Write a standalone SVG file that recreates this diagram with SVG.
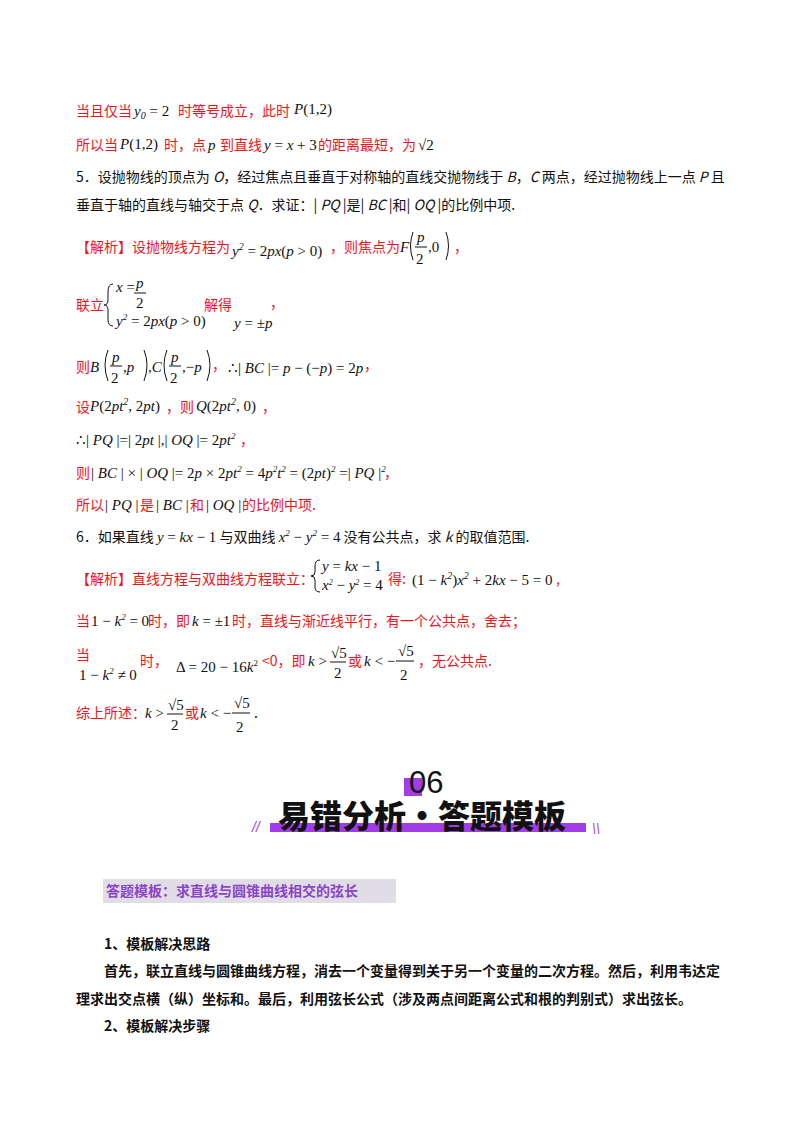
<svg xmlns="http://www.w3.org/2000/svg" width="800" height="1132" viewBox="0 0 800 1132">
<style>
.c{font-family:"Noto Sans CJK SC","Liberation Serif",serif;font-size:14px}
.r{fill:#f0141e}
.k{fill:#111}
.m{font-family:"Liberation Serif",serif;font-size:15px;font-style:italic;fill:#111}
.n{font-family:"Liberation Serif",serif;font-size:15px;fill:#111}
.b{font-weight:bold}
.br{fill:none;stroke:#111;stroke-width:1}
</style>
<rect width="800" height="1132" fill="#fff"/>
<g id="text">
<text x="76" y="116" class="c r">当且仅当</text><text x="134" y="116" class="m">y<tspan font-size="10" dy="3">0</tspan><tspan dy="-3" font-style="normal"> = 2</tspan></text><text x="178" y="116" class="c r">时等号成立，此时</text><text x="294" y="114" class="m" font-size="17">P<tspan font-style="normal">(1,2)</tspan></text>
<text x="76" y="150" class="c r">所以当</text><text x="120" y="149" class="m" font-size="17">P<tspan font-style="normal">(1,2)</tspan></text><text x="164" y="150" class="c r">时，点</text><text x="208" y="150" class="m">p</text><text x="220" y="150" class="c r">到直线</text><text x="264" y="150" class="m" font-size="13">y <tspan font-style="normal">= </tspan>x <tspan font-style="normal">+ 3</tspan></text><text x="318" y="150" class="c r">的距离最短，为</text><text x="418" y="150" class="n" font-size="16">√2</text>
<text x="76" y="182" class="c k">5．设抛物线的顶点为 <tspan font-style="italic">O</tspan>，经过焦点且垂直于对称轴的直线交抛物线于 <tspan font-style="italic">B</tspan>，<tspan font-style="italic">C</tspan> 两点，经过抛物线上一点 <tspan font-style="italic">P</tspan> 且</text>
<text x="76" y="210" class="c k">垂直于轴的直线与轴交于点 <tspan font-style="italic">Q</tspan>．求证：| <tspan font-style="italic">PQ</tspan> |是| <tspan font-style="italic">BC</tspan> |和| <tspan font-style="italic">OQ</tspan> |的比例中项.</text>
<text x="76" y="252" class="c r">【解析】设抛物线方程为</text><text x="232" y="256" class="m">y<tspan font-size="10" dy="-6">2</tspan><tspan dy="6" font-style="normal"> = 2</tspan>px<tspan font-style="normal">(</tspan>p<tspan font-style="normal"> &gt; 0)</tspan></text><text x="330" y="252" class="c r">，则焦点为</text><text x="400" y="252" class="m" font-size="17">F</text><text x="417" y="242" class="m" font-size="14">p</text><line x1="415" y1="247" x2="427" y2="247" stroke="#111"/><text x="416" y="264" class="n" font-size="14">2</text><text x="428" y="252" class="n">,0</text><path class="br" d="M413 232 Q408 246 413 260 M446 232 Q451 246 446 260"/><text x="454" y="252" class="c r">，</text>
<path class="br" d="M113 284 Q108 284 108 292 L108 300 Q108 305 104 305 Q108 305 108 310 L108 320 Q108 326 113 326"/>
<text x="116" y="292" class="m" font-size="14">x <tspan font-style="normal">=</tspan></text><text x="136" y="288" class="m" font-size="14">p</text><line x1="134" y1="293" x2="146" y2="293" stroke="#111"/><text x="136" y="308" class="n" font-size="14">2</text>
<text x="116" y="326" class="m" font-size="14">y<tspan font-size="9" dy="-6">2</tspan><tspan dy="6" font-style="normal"> = 2</tspan>px<tspan font-style="normal">(</tspan>p<tspan font-style="normal"> &gt; 0)</tspan></text>
<text x="76" y="310" class="c r">联立</text><text x="204" y="310" class="c r">解得</text><text x="234" y="328" class="m" font-size="12">y <tspan font-style="normal">= ±</tspan>p</text><text x="270" y="308" class="c r">，</text>
<text x="76" y="372" class="c r">则</text><text x="90" y="372" class="m" font-size="17">B</text><text x="112" y="362" class="m" font-size="14">p</text><line x1="110" y1="366" x2="122" y2="366" stroke="#111"/><text x="111" y="383" class="n" font-size="14">2</text><text x="123" y="372" class="m">,p</text><path class="br" d="M108 350 Q102 365 108 381 M144 350 Q150 365 144 381"/><text x="148" y="372" class="m" font-size="17">,C</text><text x="171" y="362" class="m" font-size="14">p</text><line x1="169" y1="366" x2="181" y2="366" stroke="#111"/><text x="170" y="383" class="n" font-size="14">2</text><text x="182" y="372" class="m">,<tspan font-style="normal">−</tspan>p</text><path class="br" d="M167 350 Q161 365 167 381 M207 350 Q213 365 207 381"/><text x="212" y="370" class="c r">，</text><text x="228" y="373" class="m" font-size="13"><tspan font-style="normal">∴| </tspan>BC<tspan font-style="normal"> |= </tspan>p<tspan font-style="normal"> − (−</tspan>p<tspan font-style="normal">) = 2</tspan>p</text><text x="364" y="370" class="c r">，</text>
<text x="76" y="412" class="c r">设</text><text x="90" y="411" class="m" font-size="16">P<tspan font-style="normal">(2</tspan>pt<tspan font-size="10" dy="-6">2</tspan><tspan dy="6" font-style="normal">, 2</tspan>pt<tspan font-style="normal">)</tspan></text><text x="166" y="412" class="c r">，则</text><text x="196" y="411" class="m" font-size="16">Q<tspan font-style="normal">(2</tspan>pt<tspan font-size="10" dy="-6">2</tspan><tspan dy="6" font-style="normal">, 0)</tspan></text><text x="262" y="412" class="c r">，</text>
<text x="76" y="445" class="m" font-size="14"><tspan font-style="normal">∴| </tspan>PQ<tspan font-style="normal"> |=| 2</tspan>pt<tspan font-style="normal"> |,| </tspan>OQ<tspan font-style="normal"> |= 2</tspan>pt<tspan font-size="9" dy="-6">2</tspan></text><text x="240" y="445" class="c r">，</text>
<text x="76" y="478" class="c r">则</text><text x="91" y="478" class="m" font-size="14"><tspan font-style="normal">| </tspan>BC<tspan font-style="normal"> | × | </tspan>OQ<tspan font-style="normal"> |= 2</tspan>p<tspan font-style="normal"> × 2</tspan>pt<tspan font-size="9" dy="-6">2</tspan><tspan dy="6" font-style="normal"> = 4</tspan>p<tspan font-size="9" dy="-6">2</tspan><tspan dy="6">t</tspan><tspan font-size="9" dy="-6">2</tspan><tspan dy="6" font-style="normal"> = (2</tspan>pt<tspan font-style="normal">)</tspan><tspan font-size="9" dy="-6">2</tspan><tspan dy="6" font-style="normal"> =| </tspan>PQ<tspan font-style="normal"> |</tspan><tspan font-size="9" dy="-6">2</tspan></text><text x="384" y="478" class="c r">，</text>
<text x="76" y="510" class="c r">所以</text><text x="105" y="510" class="m" font-size="14"><tspan font-style="normal">| </tspan>PQ<tspan font-style="normal"> |</tspan></text><text x="140" y="510" class="c r">是</text><text x="156" y="510" class="m" font-size="14"><tspan font-style="normal">| </tspan>BC<tspan font-style="normal"> |</tspan></text><text x="190" y="510" class="c r">和</text><text x="206" y="510" class="m" font-size="14"><tspan font-style="normal">| </tspan>OQ<tspan font-style="normal"> |</tspan></text><text x="242" y="510" class="c r">的比例中项.</text>
<text x="76" y="542" class="c k">6．如果直线 <tspan class="m" font-size="14">y<tspan font-style="normal"> = </tspan>kx<tspan font-style="normal"> − 1</tspan></tspan> 与双曲线 <tspan class="m" font-size="14">x<tspan font-size="9" dy="-6">2</tspan><tspan dy="6" font-style="normal"> − </tspan>y<tspan font-size="9" dy="-6">2</tspan><tspan dy="6" font-style="normal"> = 4</tspan></tspan> 没有公共点，求 <tspan font-style="italic">k</tspan> 的取值范围.</text>
<text x="76" y="584" class="c r">【解析】直线方程与双曲线方程联立：</text><path class="br" d="M320 560 Q315 560 315 566 L315 572 Q315 576 311 576 Q315 576 315 580 L315 587 Q315 592 320 592"/><text x="322" y="571" class="m" font-size="13">y<tspan font-style="normal"> = </tspan>kx<tspan font-style="normal"> − 1</tspan></text><text x="322" y="590" class="m" font-size="13">x<tspan font-size="8" dy="-5">2</tspan><tspan dy="5" font-style="normal"> − </tspan>y<tspan font-size="8" dy="-5">2</tspan><tspan dy="5" font-style="normal"> = 4</tspan></text><text x="388" y="584" class="c r">得:</text><text x="412" y="585" class="m"><tspan font-style="normal">(1 − </tspan>k<tspan font-size="10" dy="-6">2</tspan><tspan dy="6" font-style="normal">)</tspan>x<tspan font-size="10" dy="-6">2</tspan><tspan dy="6" font-style="normal"> + 2</tspan>kx<tspan font-style="normal"> − 5 = 0</tspan></text><text x="556" y="584" class="c r">,</text>
<text x="76" y="626" class="c r">当</text><text x="91" y="626" class="m" font-size="14"><tspan font-style="normal">1 − </tspan>k<tspan font-size="9" dy="-6">2</tspan><tspan dy="6" font-style="normal"> = 0</tspan></text><text x="148" y="626" class="c r">时，即</text><text x="192" y="626" class="m" font-size="14">k<tspan font-style="normal"> = ±1</tspan></text><text x="232" y="626" class="c r">时，直线与渐近线平行，有一个公共点，舍去；</text>
<text x="76" y="660" class="c r">当</text><text x="79" y="680" class="m" font-size="13"><tspan font-style="normal">1 − </tspan>k<tspan font-size="9" dy="-6">2</tspan><tspan dy="6" font-style="normal"> ≠ 0</tspan></text><text x="140" y="666" class="c r">时，</text><text x="176" y="672" class="n" font-size="13">Δ = 20 − 16<tspan font-style="italic">k</tspan><tspan font-size="9" dy="-6">2</tspan></text><text x="262" y="666" class="c r">&lt;0，即</text><text x="308" y="666" class="m" font-size="13">k<tspan font-style="normal"> &gt; </tspan></text><text x="331" y="658" class="n" font-size="13">√5</text><line x1="330" y1="662" x2="346" y2="662" stroke="#111"/><text x="334" y="678" class="n" font-size="13">2</text><text x="348" y="666" class="c r">或</text><text x="364" y="666" class="m" font-size="13">k<tspan font-style="normal"> &lt; −</tspan></text><text x="398" y="656" class="n" font-size="15">√5</text><line x1="396" y1="661" x2="414" y2="661" stroke="#111"/><text x="400" y="680" class="n" font-size="15">2</text><text x="418" y="666" class="c r">，无公共点.</text>
<text x="76" y="718" class="c r">综上所述：</text><text x="145" y="718" class="m" font-size="13">k<tspan font-style="normal"> &gt; </tspan></text><text x="168" y="710" class="n" font-size="13">√5</text><line x1="167" y1="714" x2="183" y2="714" stroke="#111"/><text x="171" y="730" class="n" font-size="13">2</text><text x="185" y="718" class="c r">或</text><text x="200" y="718" class="m" font-size="13">k<tspan font-style="normal"> &lt; −</tspan></text><text x="234" y="708" class="n" font-size="15">√5</text><line x1="232" y1="713" x2="250" y2="713" stroke="#111"/><text x="236" y="732" class="n" font-size="15">2</text><text x="254" y="718" class="c k">.</text>
</g>
<g id="banner">
<rect x="404" y="778" width="18" height="18" fill="#a23ce6"/>
<text x="409" y="793" font-family="Liberation Sans,sans-serif" font-size="31" fill="#111">06</text>
<rect x="270" y="823" width="316" height="9" fill="#a23ce6"/>
<text x="278" y="828" font-family="Noto Sans CJK SC,sans-serif" font-weight="900" font-size="32" fill="#111">易错分析・答题模板</text>
<text x="252" y="832" font-family="Liberation Sans,sans-serif" font-size="14" font-style="italic" fill="#a23ce6">//</text>
<text x="592" y="834" font-family="Liberation Sans,sans-serif" font-size="14" font-style="italic" fill="#a23ce6">\\</text>
</g>
<g id="heading">
<rect x="103" y="879" width="293" height="24" fill="#e0dde6"/>
<text x="106" y="896" class="c b" fill="#8a45c8">答题模板：求直线与圆锥曲线相交的弦长</text>
</g>
<g id="body">
<text x="104" y="949" class="c k b">1、模板解决思路</text>
<text x="104" y="976" class="c k b">首先，联立直线与圆锥曲线方程，消去一个变量得到关于另一个变量的二次方程。然后，利用韦达定</text>
<text x="76" y="1004" class="c k b">理求出交点横（纵）坐标和。最后，利用弦长公式（涉及两点间距离公式和根的判别式）求出弦长。</text>
<text x="104" y="1031" class="c k b">2、模板解决步骤</text>
</g>
</svg>
